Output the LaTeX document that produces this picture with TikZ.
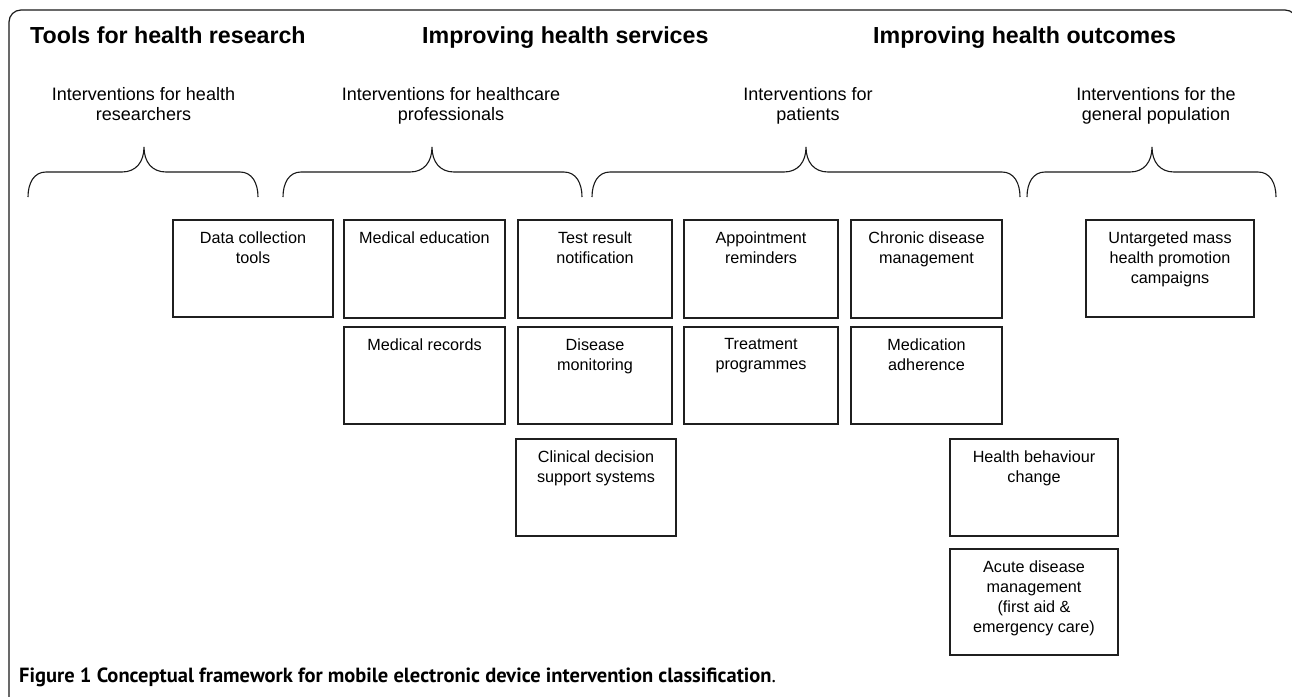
\documentclass[tikz,border=0pt]{standalone}
\usepackage{fontspec}
\setmainfont{Liberation Sans}
\newfontfamily\capfont{PT Sans}
\begin{document}
\begin{tikzpicture}[x=1pt,y=-1pt,
  frame/.style={line width=1.2pt, draw=black!90, rounded corners=12pt},
  brace/.style={line width=1.1pt, draw=black!90},
  head/.style={anchor=base west, inner sep=0, font=\fontsize{23.2}{27}\selectfont\bfseries},
  sub/.style={anchor=north, inner sep=0, align=center, font=\fontsize{18}{20.5}\selectfont,
    execute at begin node={\rule{0pt}{13pt}}},
  lbl/.style={anchor=north, inner xsep=0, inner ysep=11.5pt, align=center,
    font=\fontsize{16.2}{20}\selectfont, execute at begin node={\rule{0pt}{12pt}}},
  bx/.style={draw=black!88, line width=1.1pt, anchor=north west, inner sep=0, outer sep=0,
    minimum width=#1},
  bx/.default=160pt]
\useasboundingbox (0,0) rectangle (1292,696);
\clip (0,0) rectangle (1292,696);
% frame
\draw[frame] (9,720) -- (9,10) -- (1297,10) -- (1297,120);
% headings
\node[head] (h1) at (30,43) {Tools for health research};
\node[head] (h2) at (422,43) {Improving health services};
\node[head] (h3) at (873,43) {Improving health outcomes};
% subheadings
\node[sub] (s1) at (143.5,87) {Interventions for health\\researchers};
\node[sub] (s2) at (451,87) {Interventions for healthcare\\professionals};
\node[sub] (s3) at (808,87) {Interventions for\\patients};
\node[sub] (s4) at (1156,87) {Interventions for the\\general population};
% braces
\newcommand\mybrace[3]{%
  \draw[brace] (#1,197) .. controls (#1,183) and (#1+6,172) .. (#1+18,172)
    -- (#2-22,172) .. controls (#2-8,172) and (#2,162) .. (#2,147)
    .. controls (#2,162) and (#2+8,172) .. (#2+22,172)
    -- (#3-18,172) .. controls (#3-6,172) and (#3,183) .. (#3,197);}
\mybrace{28}{144}{258}
\mybrace{283}{432}{582}
\mybrace{592}{806}{1020}
\mybrace{1027}{1152}{1276}
% boxes
\node[bx, minimum height=97pt, label={[lbl]north:{Data collection\\tools}}] (dc) at (173,220) {};
\node[bx=161pt, minimum height=98pt, label={[lbl]north:{Medical education}}] (me) at (344,220) {};
\node[bx=161pt, minimum height=97pt, label={[lbl]north:{Medical records}}] (mr) at (344,327) {};
\node[bx=154pt, minimum height=98pt, label={[lbl]north:{Test result\\notification}}] (tr) at (518,220) {};
\node[bx=154pt, minimum height=97pt, label={[lbl]north:{Disease\\monitoring}}] (dm) at (518,327) {};
\node[bx=160pt, minimum height=97pt, label={[lbl]north:{Clinical decision\\support systems}}] (cd) at (516,439) {};
\node[bx=154pt, minimum height=98pt, label={[lbl]north:{Appointment\\reminders}}] (ar) at (684,220) {};
\node[bx=154pt, minimum height=97pt, label={[lbl]north:{Treatment\\programmes}}] (tp) at (684,327) {};
\node[bx=151pt, minimum height=98pt, label={[lbl]north:{Chronic disease\\management}}] (ch) at (851,220) {};
\node[bx=151pt, minimum height=97pt, label={[lbl]north:{Medication\\adherence}}] (ma) at (851,327) {};
\node[bx=168pt, minimum height=97pt, label={[lbl]north:{Untargeted mass\\health promotion\\campaigns}}] (um) at (1086,220) {};
\node[bx=168pt, minimum height=97pt, label={[lbl]north:{Health behaviour\\change}}] (hb) at (950,439) {};
\node[bx=168pt, minimum height=106pt, label={[lbl]north:{Acute disease\\management\\(first aid \&\\emergency care)}}] (ad) at (950,549) {};
% caption
\node[anchor=base west, inner sep=0, font=\capfont\fontsize{20.5}{24}\selectfont] (cap) at (19,682)
  {\textbf{Figure 1 Conceptual framework for mobile electronic device intervention classification}.};
\end{tikzpicture}
\end{document}
